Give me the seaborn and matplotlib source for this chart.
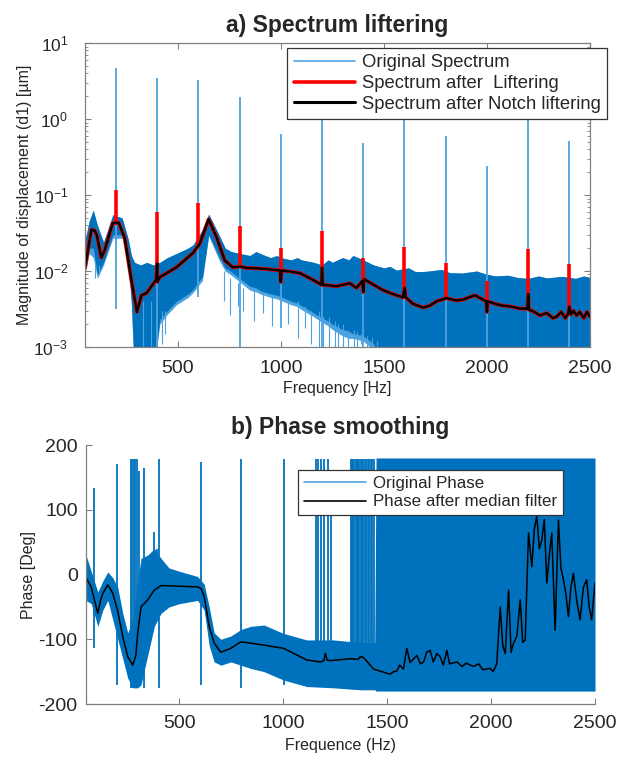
# spectrum liftering + phase smoothing figure
import numpy as np
import pandas as pd
import seaborn as sns
from matplotlib import pyplot as plt
from matplotlib.lines import Line2D
from matplotlib.ticker import LogLocator, NullFormatter

# ---------------- a) spectrum ----------------
# blue noise band of the original spectrum (upper edge, dense lower edge, light lower edge)
band_f = [50, 70, 90, 110, 140, 185, 230, 260, 275, 290, 320, 350, 380, 413, 450, 494, 550,
          574, 620, 650, 700, 730, 760, 800, 850, 880, 900, 950, 980, 1000, 1050, 1080, 1100,
          1160, 1200, 1230, 1250, 1300, 1330, 1350, 1400, 1450, 1500, 1530, 1560, 1620, 1650,
          1680, 1720, 1780, 1820, 1880, 1950, 1990, 2040, 2100, 2150, 2200, 2250, 2290, 2365,
          2430, 2470, 2500]
band_hi = [0.025, 0.045, 0.063, 0.040, 0.024, 0.055, 0.050, 0.026, 0.016, 0.013, 0.012, 0.013,
           0.012, 0.013, 0.015, 0.017, 0.020, 0.022, 0.035, 0.056, 0.030, 0.020, 0.018, 0.017,
           0.016, 0.018, 0.017, 0.015, 0.016, 0.015, 0.014, 0.015, 0.014, 0.013, 0.012, 0.014,
           0.013, 0.015, 0.014, 0.016, 0.014, 0.012, 0.011, 0.0115, 0.0103, 0.011, 0.0099,
           0.0098, 0.010, 0.0105, 0.0095, 0.0094, 0.010, 0.0092, 0.0086, 0.0088, 0.0082,
           0.0080, 0.0086, 0.0081, 0.0085, 0.0080, 0.0086, 0.0082]
dense_lo = [0.010, 0.020, 0.020, 0.009, 0.013, 0.030, 0.030, 0.015, 0.004, 0.0004, 0.0004,
            0.0004, 0.0004, 0.0023, 0.003, 0.004, 0.005, 0.0057, 0.0085, 0.030, 0.0155, 0.011,
            0.0098, 0.008, 0.0063, 0.006, 0.0055, 0.005, 0.0048, 0.0046, 0.004, 0.0038,
            0.0035, 0.0028, 0.0024, 0.0022, 0.002, 0.0017, 0.0016, 0.0015, 0.0014, 0.0011,
            0.0004, 0.0004, 0.0004, 0.0004, 0.0004, 0.0004, 0.0004, 0.0004, 0.0004, 0.0004,
            0.0004, 0.0004, 0.0004, 0.0004, 0.0004, 0.0004, 0.0004, 0.0004, 0.0004, 0.0004,
            0.0004, 0.0004]
light_lo = [0.009, 0.017, 0.015, 0.008, 0.012, 0.027, 0.027, 0.012, 0.0035, 0.0004, 0.0004,
            0.0004, 0.0004, 0.002, 0.0027, 0.0036, 0.0045, 0.0052, 0.0075, 0.029, 0.014,
            0.010, 0.0088, 0.0072, 0.0056, 0.0053, 0.005, 0.0045, 0.0043, 0.0041, 0.0036,
            0.0034, 0.0031, 0.0025, 0.0021, 0.0019, 0.0017, 0.0014, 0.0013, 0.0013, 0.0012,
            0.0009, 0.0004, 0.0004, 0.0004, 0.0004, 0.0004, 0.0004, 0.0004, 0.0004, 0.0004,
            0.0004, 0.0004, 0.0004, 0.0004, 0.0004, 0.0004, 0.0004, 0.0004, 0.0004, 0.0004,
            0.0004, 0.0004, 0.0004]

# thin downward streaks of the original spectrum below the dense band
drip_f = [100, 118, 330, 372, 425, 440, 722, 755, 792, 818, 868, 913, 958, 1037, 1083, 1118,
          1146, 1183, 1206, 1234, 1262, 1278, 1303, 1327, 1354, 1372, 1391, 1418, 1443, 1468]
drip_lo = [0.008, 0.009, 0.0004, 0.0004, 0.0011, 0.0015, 0.004, 0.0026, 0.0035, 0.003,
           0.0022, 0.0028, 0.0019, 0.002, 0.0013, 0.0018, 0.0011, 0.0009, 0.0007, 0.0009,
           0.001, 0.0006, 0.0008, 0.001, 0.0007, 0.0008, 0.0011, 0.0007, 0.0006, 0.0009]
drip_hi = [0.012, 0.012, 0.004, 0.004, 0.003, 0.003, 0.01, 0.008, 0.007, 0.006, 0.006, 0.005,
           0.005, 0.004, 0.004, 0.0035, 0.003, 0.003, 0.0025, 0.0025, 0.0022, 0.002, 0.002,
           0.0017, 0.0017, 0.0016, 0.0015, 0.0014, 0.0013, 0.0012]

# harmonics
harm_f = [200, 400, 600, 800, 1000, 1200, 1400, 1600, 1800, 2000, 2200, 2400]
blue_hi = [4.7, 3.5, 3.3, 1.93, 0.63, 2.0, 0.48, 1.5, 0.59, 0.24, 1.2, 0.52]
blue_lo = [0.0032, 0.0008, 0.0046, 0.0008, 0.0018, 0.0008, 0.0008, 0.0008, 0.0008, 0.0008,
           0.0008, 0.0008]
red_hi = [0.116, 0.060, 0.079, 0.039, 0.020, 0.034, 0.015, 0.021, 0.0126, 0.0074, 0.0195, 0.0123]
red_lo = [0.040, 0.009, 0.022, 0.011, 0.010, 0.0066, 0.0075, 0.0045, 0.0043, 0.0040, 0.0032,
          0.0026]

# notch-liftered spectrum
notch_f = [50, 81, 97, 107, 129, 146, 185, 214, 243, 275, 302, 324, 348, 388, 396, 400, 401,
           413, 494, 574, 607, 650, 688, 728, 767, 800, 833, 900, 995, 1000, 1004, 1092, 1150,
           1197, 1200, 1203, 1270, 1335, 1367, 1396, 1400, 1404, 1450, 1496, 1560, 1593, 1600,
           1606, 1641, 1690, 1723, 1756, 1804, 1850, 1883, 1942, 1996, 2000, 2004, 2040, 2078,
           2120, 2160, 2196, 2200, 2204, 2230, 2257, 2290, 2320, 2338, 2360, 2380, 2393, 2400,
           2407, 2420, 2435, 2450, 2470, 2485, 2500]
notch_v = [0.011, 0.035, 0.034, 0.030, 0.015, 0.019, 0.043, 0.043, 0.027, 0.0076, 0.0029,
           0.0048, 0.0051, 0.0072, 0.0078, 0.0126, 0.0072, 0.0083, 0.0112, 0.0173, 0.023,
           0.048, 0.028, 0.0138, 0.0112, 0.0115, 0.011, 0.0108, 0.0102, 0.0072, 0.0102, 0.0094,
           0.0078, 0.0066, 0.011, 0.0066, 0.0063, 0.0069, 0.006, 0.0074, 0.0053, 0.0078, 0.0066,
           0.0056, 0.0048, 0.0045, 0.006, 0.0045, 0.0037, 0.0033, 0.0035, 0.004, 0.0044, 0.0041,
           0.0042, 0.0048, 0.004, 0.0029, 0.004, 0.0037, 0.0035, 0.0034, 0.0032, 0.0032, 0.005,
           0.0031, 0.0029, 0.0026, 0.0028, 0.0024, 0.0025, 0.0029, 0.0024, 0.0027, 0.0034,
           0.0027, 0.0030, 0.0026, 0.0029, 0.0024, 0.0029, 0.0025]

# ---------------- b) phase ----------------
ph_band_f = [50, 75, 107, 131, 155, 179, 203, 227, 251, 275, 299, 315, 347, 379, 411, 450, 500,
             587, 619, 643, 667, 699, 747, 795, 843, 907, 1001, 1113, 1242, 1370, 1440, 1446,
             2500]
ph_band_hi = [30, 5, -27, -10, 4, -5, -20, -60, -90, -70, -10, 25, 30, 40, 25, 10, 5, -3, -15,
              -50, -90, -100, -95, -85, -80, -78, -91, -101, -101, -105, -105, 180, 180]
ph_band_lo = [-40, -45, -80, -55, -40, -70, -100, -130, -160, -175, -175, -170, -125, -80, -60,
              -50, -45, -40, -55, -110, -135, -140, -135, -140, -145, -150, -163, -173, -175,
              -178, -178, -180, -180]

ph_spike_f = [87, 199, 265, 272, 280, 288, 296, 305, 331, 379, 390, 403, 603, 795, 1001, 1155,
              1165, 1180, 1195, 1215, 1228, 1325, 1330, 1336, 1342, 1348, 1354, 1360, 1366,
              1372, 1378, 1384, 1392, 1398, 1405, 1412, 1420, 1428, 1436]
ph_spike_hi = [134, 171, 178, 178, 178, 178, 178, 160, 164, 66, 40, 178, 174, 178, 178, 178,
               178, 178, 178, 178, 150, 178, 178, 178, 178, 178, 178, 178, 178, 178, 178, 178,
               178, 178, 178, 178, 178, 178, 178]
ph_spike_lo = [-113, -170, -175, -175, -175, -175, -175, -172, -175, -80, -70, -175, -170, -175,
               -170, -172, -172, -172, -172, -172, -172, -176, -176, -176, -176, -176, -176,
               -176, -176, -176, -176, -176, -176, -176, -176, -176, -176, -176, -176]

med_f = [50, 75, 95, 107, 120, 131, 155, 179, 203, 227, 251, 275, 290, 299, 315, 330, 347, 379,
         411, 491, 587, 605, 619, 643, 667, 699, 747, 795, 843, 907, 1001, 1113, 1178, 1195,
         1202, 1210, 1226, 1322, 1360, 1370, 1385, 1402, 1434, 1514, 1530, 1546, 1560, 1578,
         1594, 1610, 1627, 1643, 1660, 1675, 1690, 1706, 1722, 1739, 1755, 1770, 1787, 1800,
         1835, 1860, 1880, 1915, 1940, 1960, 1995, 2010, 2027, 2044, 2056, 2068, 2084, 2096,
         2108, 2124, 2140, 2152, 2164, 2180, 2196, 2208, 2220, 2232, 2244, 2256, 2268, 2280,
         2292, 2308, 2324, 2336, 2348, 2360, 2372, 2384, 2396, 2412, 2428, 2444, 2460, 2472,
         2484, 2500]
med_v = [-5, -19, -45, -60, -40, -29, -16, -29, -57, -96, -127, -140, -125, -90, -50, -45, -39,
         -24, -17, -18, -19, -22, -34, -80, -106, -120, -114, -104, -106, -109, -114, -132,
         -135, -133, -122, -132, -133, -130, -131, -127, -128, -134, -146, -154, -150, -149,
         -140, -146, -114, -136, -130, -125, -138, -135, -120, -117, -135, -122, -127, -140,
         -117, -138, -135, -142, -137, -142, -138, -147, -145, -150, -138, -50, -110, -122,
         -24, -120, -106, -95, -39, -105, -101, 64, 12, 70, 90, 40, 53, 85, -13, 30, 64, -86,
         84, 10, -8, -30, -65, -20, 2, -40, -70, -20, -8, -50, -70, -13]

BLUE = '#0072BD'
LIGHT = '#4DA3DF'
GREY = '#808080'
TXT = '#262626'

sns.set_style('white')
plt.rcParams['font.family'] = ['Liberation Sans', 'DejaVu Sans']
plt.rcParams['mathtext.fontset'] = 'custom'
plt.rcParams['mathtext.rm'] = 'Liberation Sans'
plt.rcParams['axes.unicode_minus'] = False

fig = plt.figure(figsize=(6.25, 7.58), dpi=100)
ax1 = fig.add_axes([0.136, 0.5422, 0.808, 0.401])
ax2 = fig.add_axes([0.1376, 0.0712, 0.8144, 0.3417])

# --- top panel
ax1.fill_between(band_f, light_lo, band_hi, color=LIGHT, lw=0)
ax1.fill_between(band_f, dense_lo, band_hi, color=BLUE, lw=0)
ax1.vlines(drip_f, drip_lo, drip_hi, color=LIGHT, lw=0.8)
ax1.vlines(harm_f, blue_lo, blue_hi, color=LIGHT, lw=1.3)
sns.lineplot(x=notch_f, y=notch_v, ax=ax1, color='red', lw=2.8, estimator=None, sort=False)
ax1.vlines(harm_f, red_lo, red_hi, color='red', lw=2.6)
sns.lineplot(x=notch_f, y=notch_v, ax=ax1, color='black', lw=1.8, estimator=None, sort=False)

ax1.set_yscale('log')
ax1.set_xlim(50, 2500)
ax1.set_ylim(1e-3, 10)
ax1.set_xticks([500, 1000, 1500, 2000, 2500])
ax1.yaxis.set_major_locator(LogLocator(base=10, numticks=10))
ax1.yaxis.set_minor_locator(LogLocator(base=10, subs=np.arange(2, 10), numticks=12))
ax1.yaxis.set_minor_formatter(NullFormatter())
ax1.tick_params(which='both', direction='in', left=True, bottom=True, top=True, right=True,
                colors=GREY, labelcolor=TXT, labelsize=14)
ax1.tick_params(which='major', length=4)
ax1.tick_params(which='minor', length=2)
ax1.tick_params(axis='x', pad=9)
ax1.tick_params(axis='y', pad=12, labelsize=12.5)
for s in ax1.spines.values():
    s.set_color(GREY)
    s.set_linewidth(0.9)
ax1.set_xlabel('Frequency [Hz]', fontsize=11.5, color=TXT, labelpad=3)
ax1.set_ylabel('Magnitude of displacement (d1) [\u00b5m]', fontsize=11.5, color=TXT,
               labelpad=1)
ax1.set_title('a) Spectrum liftering', fontsize=16.5, fontweight='bold', pad=8)

h1 = [Line2D([], [], color=LIGHT, lw=1.2), Line2D([], [], color='red', lw=2.6),
      Line2D([], [], color='black', lw=2.2)]
leg1 = ax1.legend(h1, ['Original Spectrum', 'Spectrum after  Liftering',
                       'Spectrum after Notch liftering'],
                  loc='upper right', bbox_to_anchor=(1.034, 0.984), fontsize=13.3,
                  frameon=True, fancybox=False, framealpha=1, edgecolor='#333333',
                  handlelength=3.3, labelspacing=0.2, borderpad=0.35, handletextpad=0.38,
                  borderaxespad=0)
leg1.get_frame().set_linewidth(0.9)
for t in leg1.get_texts():
    t.set_color(TXT)

# --- bottom panel
ax2.fill_between(ph_band_f, ph_band_lo, ph_band_hi, color=BLUE, lw=0)
ax2.vlines(ph_spike_f, ph_spike_lo, ph_spike_hi, color=BLUE, lw=1.3)
sns.lineplot(x=med_f, y=med_v, ax=ax2, color='black', lw=1.1, estimator=None, sort=False)

ax2.set_xlim(50, 2500)
ax2.set_ylim(-200, 200)
ax2.set_xticks([500, 1000, 1500, 2000, 2500])
ax2.set_yticks([-200, -100, 0, 100, 200])
ax2.tick_params(direction='in', length=4, left=True, bottom=True, colors=GREY,
                labelcolor=TXT, labelsize=14)
ax2.tick_params(axis='x', pad=8)
ax2.tick_params(axis='y', pad=6)
sns.despine(ax=ax2)
for s in ('left', 'bottom'):
    ax2.spines[s].set_color(GREY)
    ax2.spines[s].set_linewidth(0.9)
ax2.set_xlabel('Frequence (Hz)', fontsize=11.5, color=TXT, labelpad=4)
ax2.set_ylabel('Phase [Deg]', fontsize=11.5, color=TXT, labelpad=2)
ax2.set_title('b) Phase smoothing', fontsize=16.5, fontweight='bold', pad=8)

h2 = [Line2D([], [], color=LIGHT, lw=1.2), Line2D([], [], color='black', lw=1.2)]
leg2 = ax2.legend(h2, ['Original Phase', 'Phase after median filter'],
                  loc='upper right', bbox_to_anchor=(0.937, 0.903), fontsize=12.2,
                  frameon=True, fancybox=False, framealpha=1, edgecolor='#333333',
                  handlelength=3.65, labelspacing=0.2, borderpad=0.35, handletextpad=0.4,
                  borderaxespad=0)
leg2.get_frame().set_linewidth(0.9)
for t in leg2.get_texts():
    t.set_color(TXT)

fig.savefig('out.png', dpi=100)
